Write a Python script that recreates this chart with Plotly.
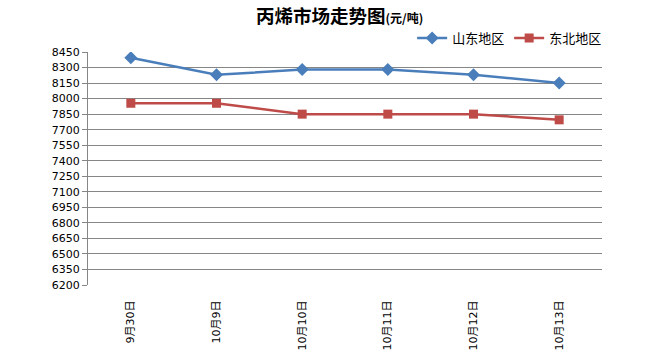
import plotly.graph_objects as go

categories = ["9月30日", "10月9日", "10月10日", "10月11日", "10月12日", "10月13日"]
shandong = [8395, 8230, 8280, 8280, 8230, 8150]
dongbei = [7955, 7955, 7850, 7850, 7850, 7795]
series_names = ["山东地区", "东北地区"]
title_main = "丙烯市场走势图"
title_unit = "(元/吨)"

fig = go.Figure()
fig.add_trace(go.Scatter(
    x=categories, y=shandong, name=series_names[0], mode="lines+markers",
    line=dict(color="#4A7EBB", width=2.5),
    marker=dict(symbol="diamond", size=10, color="#4A7EBB"),
))
fig.add_trace(go.Scatter(
    x=categories, y=dongbei, name=series_names[1], mode="lines+markers",
    line=dict(color="#BE4B48", width=2.5),
    marker=dict(symbol="square", size=9, color="#BE4B48"),
))

fig.update_layout(
    width=650, height=354,
    margin=dict(l=88, r=48, t=52, b=69, autoexpand=False),
    paper_bgcolor="white", plot_bgcolor="white",
    font=dict(family="DejaVu Sans, Noto Sans CJK SC", size=11, color="#000000"),
    legend=dict(
        orientation="h", x=1.01, xanchor="right", y=1.06, yanchor="middle",
        font=dict(family="Noto Sans CJK SC", size=13, color="#000000"),
        bgcolor="rgba(0,0,0,0)", itemwidth=30, tracegroupgap=0,
    ),
    showlegend=True,
    annotations=[dict(
        text=f"<b>{title_main}</b><b><span style='font-size:12px'>{title_unit}</span></b>",
        xref="paper", yref="paper", x=0.49, y=1.158, xanchor="center",
        yanchor="middle", showarrow=False,
        font=dict(family="Noto Sans CJK SC", size=18.5, color="#000000"),
    )],
)
fig.update_xaxes(
    type="category", range=[-0.5, 5.5], tickangle=-90, showgrid=False,
    showline=False, ticks="outside", ticklen=10, tickcolor="rgba(0,0,0,0)",
    tickfont=dict(size=11), zeroline=False, automargin=False,
)
fig.update_yaxes(
    range=[6200, 8450], dtick=150, tick0=6200, showgrid=True,
    gridcolor="#868686", gridwidth=1, showline=True, linecolor="#868686",
    linewidth=1, ticks="outside", ticklen=5, tickcolor="#868686",
    zeroline=False, tickfont=dict(size=11), automargin=False,
)

fig.write_html("out.html")
